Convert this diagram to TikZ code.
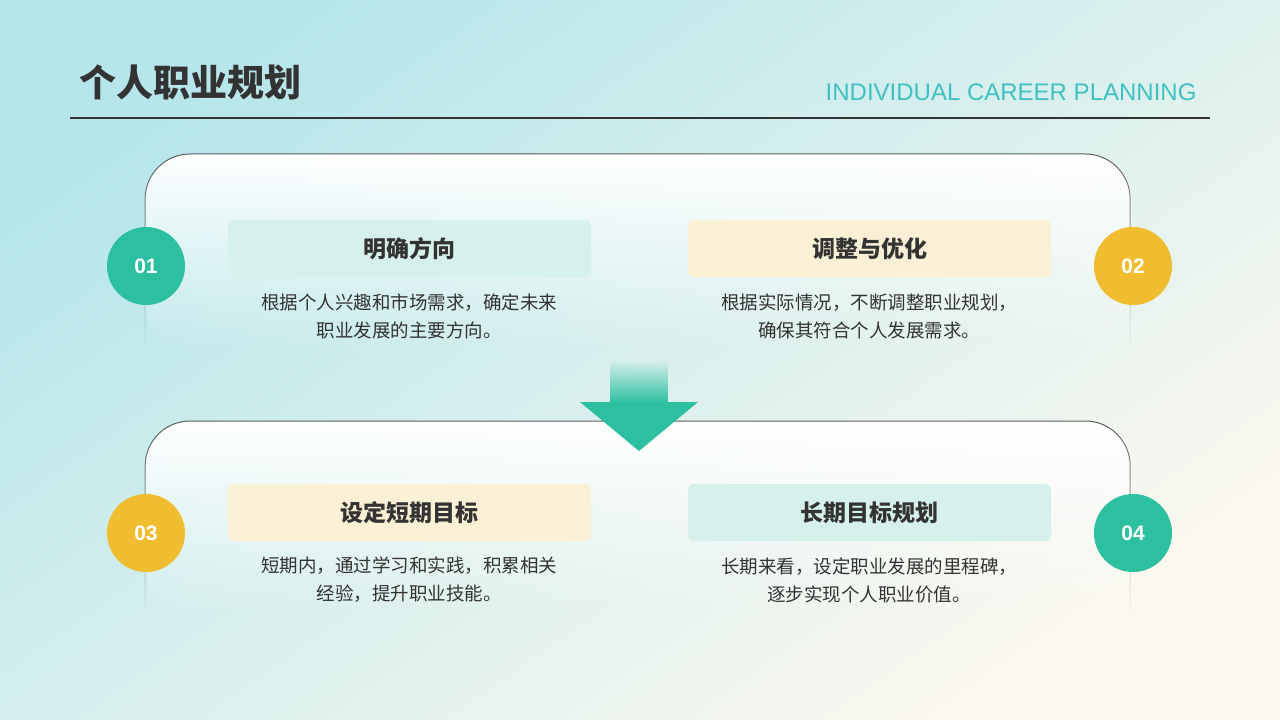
\documentclass[tikz,border=0pt]{standalone}
\usepackage{fontspec}
\setmainfont{Liberation Sans}
\newfontfamily\cjk{Noto Sans CJK SC}
\usetikzlibrary{fadings}
\definecolor{teal1}{HTML}{2CBFA0}
\definecolor{yel1}{HTML}{F0BC30}
\definecolor{tealbar}{HTML}{D6F1EB}
\definecolor{yelbar}{HTML}{FAF0D6}
\definecolor{bgA}{HTML}{B6E6EB}
\definecolor{bgB}{HTML}{FBF8EF}
\definecolor{ink}{HTML}{333333}
\definecolor{eng}{HTML}{3FC1C2}
\tikzset{
  numc/.style={circle,minimum size=78pt,inner sep=0pt,text=white,font=\bfseries\fontsize{21}{21}\selectfont},
  bar/.style={rounded corners=6pt,minimum width=363pt,minimum height=57pt,inner sep=0pt,font=\cjk\bfseries\fontsize{23}{23}\selectfont,text=ink},
  body/.style={align=center,font=\cjk\fontsize{18.5}{28}\selectfont,text=ink},
}
\begin{document}
\begin{tikzpicture}[x=1pt,y=-1pt]
\useasboundingbox (0,0) rectangle (1280,720);
\shade[shading=axis,top color=bgA,bottom color=bgB,shading angle=35] (0,0) rectangle (1280,720);
% header
\node[anchor=west,font=\cjk\bfseries\fontsize{37}{37}\selectfont,text=ink] (title) at (76,82) {个人职业规划};
\node[anchor=east,font=\fontsize{24}{24}\selectfont,text=eng] (eng) at (1200,92) {INDIVIDUAL CAREER PLANNING};
\draw[ink,line width=1.2pt] (70,118) -- (1210,118);
% panels
\foreach \t/\b in {154/350,421/615}{
  \fill[white,path fading=south,rounded corners=45pt] (146,\b) -- (146,\t) -- (1133,\t) -- (1133,\b) -- cycle;
  \draw[ink!80,line width=1pt,path fading=south,rounded corners=45pt] (146,\b) -- (146,\t) -- (1133,\t) -- (1133,\b);
}
% arrow
\fill[teal1,path fading=north] (610,360) rectangle (668,403);
\fill[teal1] (580,402) -- (698,402) -- (639,451) -- cycle;
% circles
\node[numc,fill=teal1] (n1) at (146,266) {01};
\node[numc,fill=yel1] (n2) at (1133,266) {02};
\node[numc,fill=yel1] (n3) at (146,533) {03};
\node[numc,fill=teal1] (n4) at (1133,533) {04};
% bars
\node[bar,fill=tealbar] (b1) at (409.5,248.5) {明确方向};
\node[bar,fill=yelbar] (b2) at (869.5,248.5) {调整与优化};
\node[bar,fill=yelbar] (b3) at (409.5,512.5) {设定短期目标};
\node[bar,fill=tealbar] (b4) at (869.5,512.5) {长期目标规划};
% bodies
\node[body] (t1) at (409,316) {根据个人兴趣和市场需求，确定未来\\职业发展的主要方向。};
\node[body] (t2) at (869,316) {根据实际情况，不断调整职业规划，\\确保其符合个人发展需求。};
\node[body] (t3) at (409,580) {短期内，通过学习和实践，积累相关\\经验，提升职业技能。};
\node[body] (t4) at (869,580) {长期来看，设定职业发展的里程碑，\\逐步实现个人职业价值。};
\end{tikzpicture}
\end{document}
